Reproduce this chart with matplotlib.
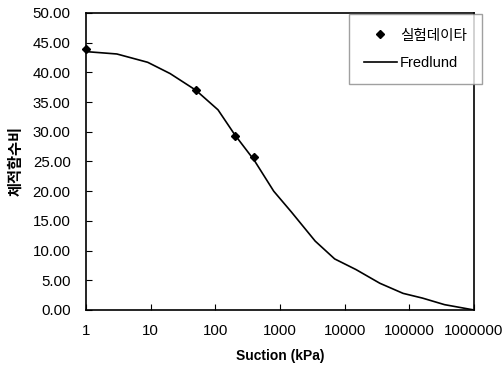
import matplotlib
matplotlib.use("Agg")
import matplotlib.pyplot as plt
from matplotlib.ticker import FixedLocator, FixedFormatter, NullLocator, FormatStrFormatter

plt.rcParams['font.family'] = ['Liberation Sans', 'Noto Sans CJK KR', 'DejaVu Sans']

# measured data
suction_exp = [1, 50, 200, 400]
theta_exp = [44.0, 37.1, 29.3, 25.8]

# Fredlund fit curve
suction_fit = [1, 3, 9, 20, 50, 110, 200, 400, 800, 1500, 3500, 7000,
               15000, 35000, 80000, 160000, 350000, 1000000]
theta_fit = [43.5, 43.1, 41.7, 39.8, 37.0, 33.7, 29.5, 25.2, 20.0, 16.5,
             11.6, 8.6, 6.8, 4.5, 2.8, 2.0, 0.9, 0.0]

x_ticks = [1, 10, 100, 1000, 10000, 100000, 1000000]
x_labels = ["1", "10", "100", "1000", "10000", "100000", "1000000"]

fig = plt.figure(figsize=(5.04, 3.65), dpi=100)
ax = fig.add_axes([0.1706, 0.1507, 0.7699, 0.8137])

ax.plot(suction_fit, theta_fit, color='black', lw=1.2, label="Fredlund")
ax.plot(suction_exp, theta_exp, 'D', color='black', ms=4.5, ls='none',
        label="실험데이타", clip_on=False)

ax.set_xscale('log')
ax.set_xlim(1, 1000000)
ax.set_ylim(0, 50)
ax.xaxis.set_major_locator(FixedLocator(x_ticks))
ax.xaxis.set_major_formatter(FixedFormatter(x_labels))
ax.xaxis.set_minor_locator(NullLocator())
ax.set_yticks([0, 5, 10, 15, 20, 25, 30, 35, 40, 45, 50])
ax.yaxis.set_major_formatter(FormatStrFormatter('%.2f'))
ax.tick_params(axis='both', direction='in', length=4, width=0.8, labelsize=10.8)
ax.tick_params(axis='x', pad=10)
ax.tick_params(axis='y', pad=11)
for s in ax.spines.values():
    s.set_linewidth(1.2)

ax.set_xlabel("Suction (kPa)", fontsize=10, fontweight='bold')
ax.xaxis.set_label_coords(0.5, -0.133)
ax.set_ylabel("체적함수비", fontsize=11, fontweight='bold',
              family=['Noto Sans CJK KR', 'DejaVu Sans'])
ax.yaxis.set_label_coords(-0.162, 0.5)

handles, labels = ax.get_legend_handles_labels()
leg = fig.legend(handles[::-1], labels[::-1], loc='upper left',
                 bbox_to_anchor=(349 / 504, 1 - 14 / 365), borderaxespad=0,
                 frameon=True, fancybox=False, edgecolor='#888888', numpoints=1,
                 handlelength=2.3, handletextpad=0.2, borderpad=1.0, labelspacing=0.9,
                 prop={'family': ['Liberation Sans', 'Noto Sans CJK KR'], 'size': 10.5})
leg.get_frame().set_linewidth(1.0)

fig.savefig("out.png", dpi=100)
